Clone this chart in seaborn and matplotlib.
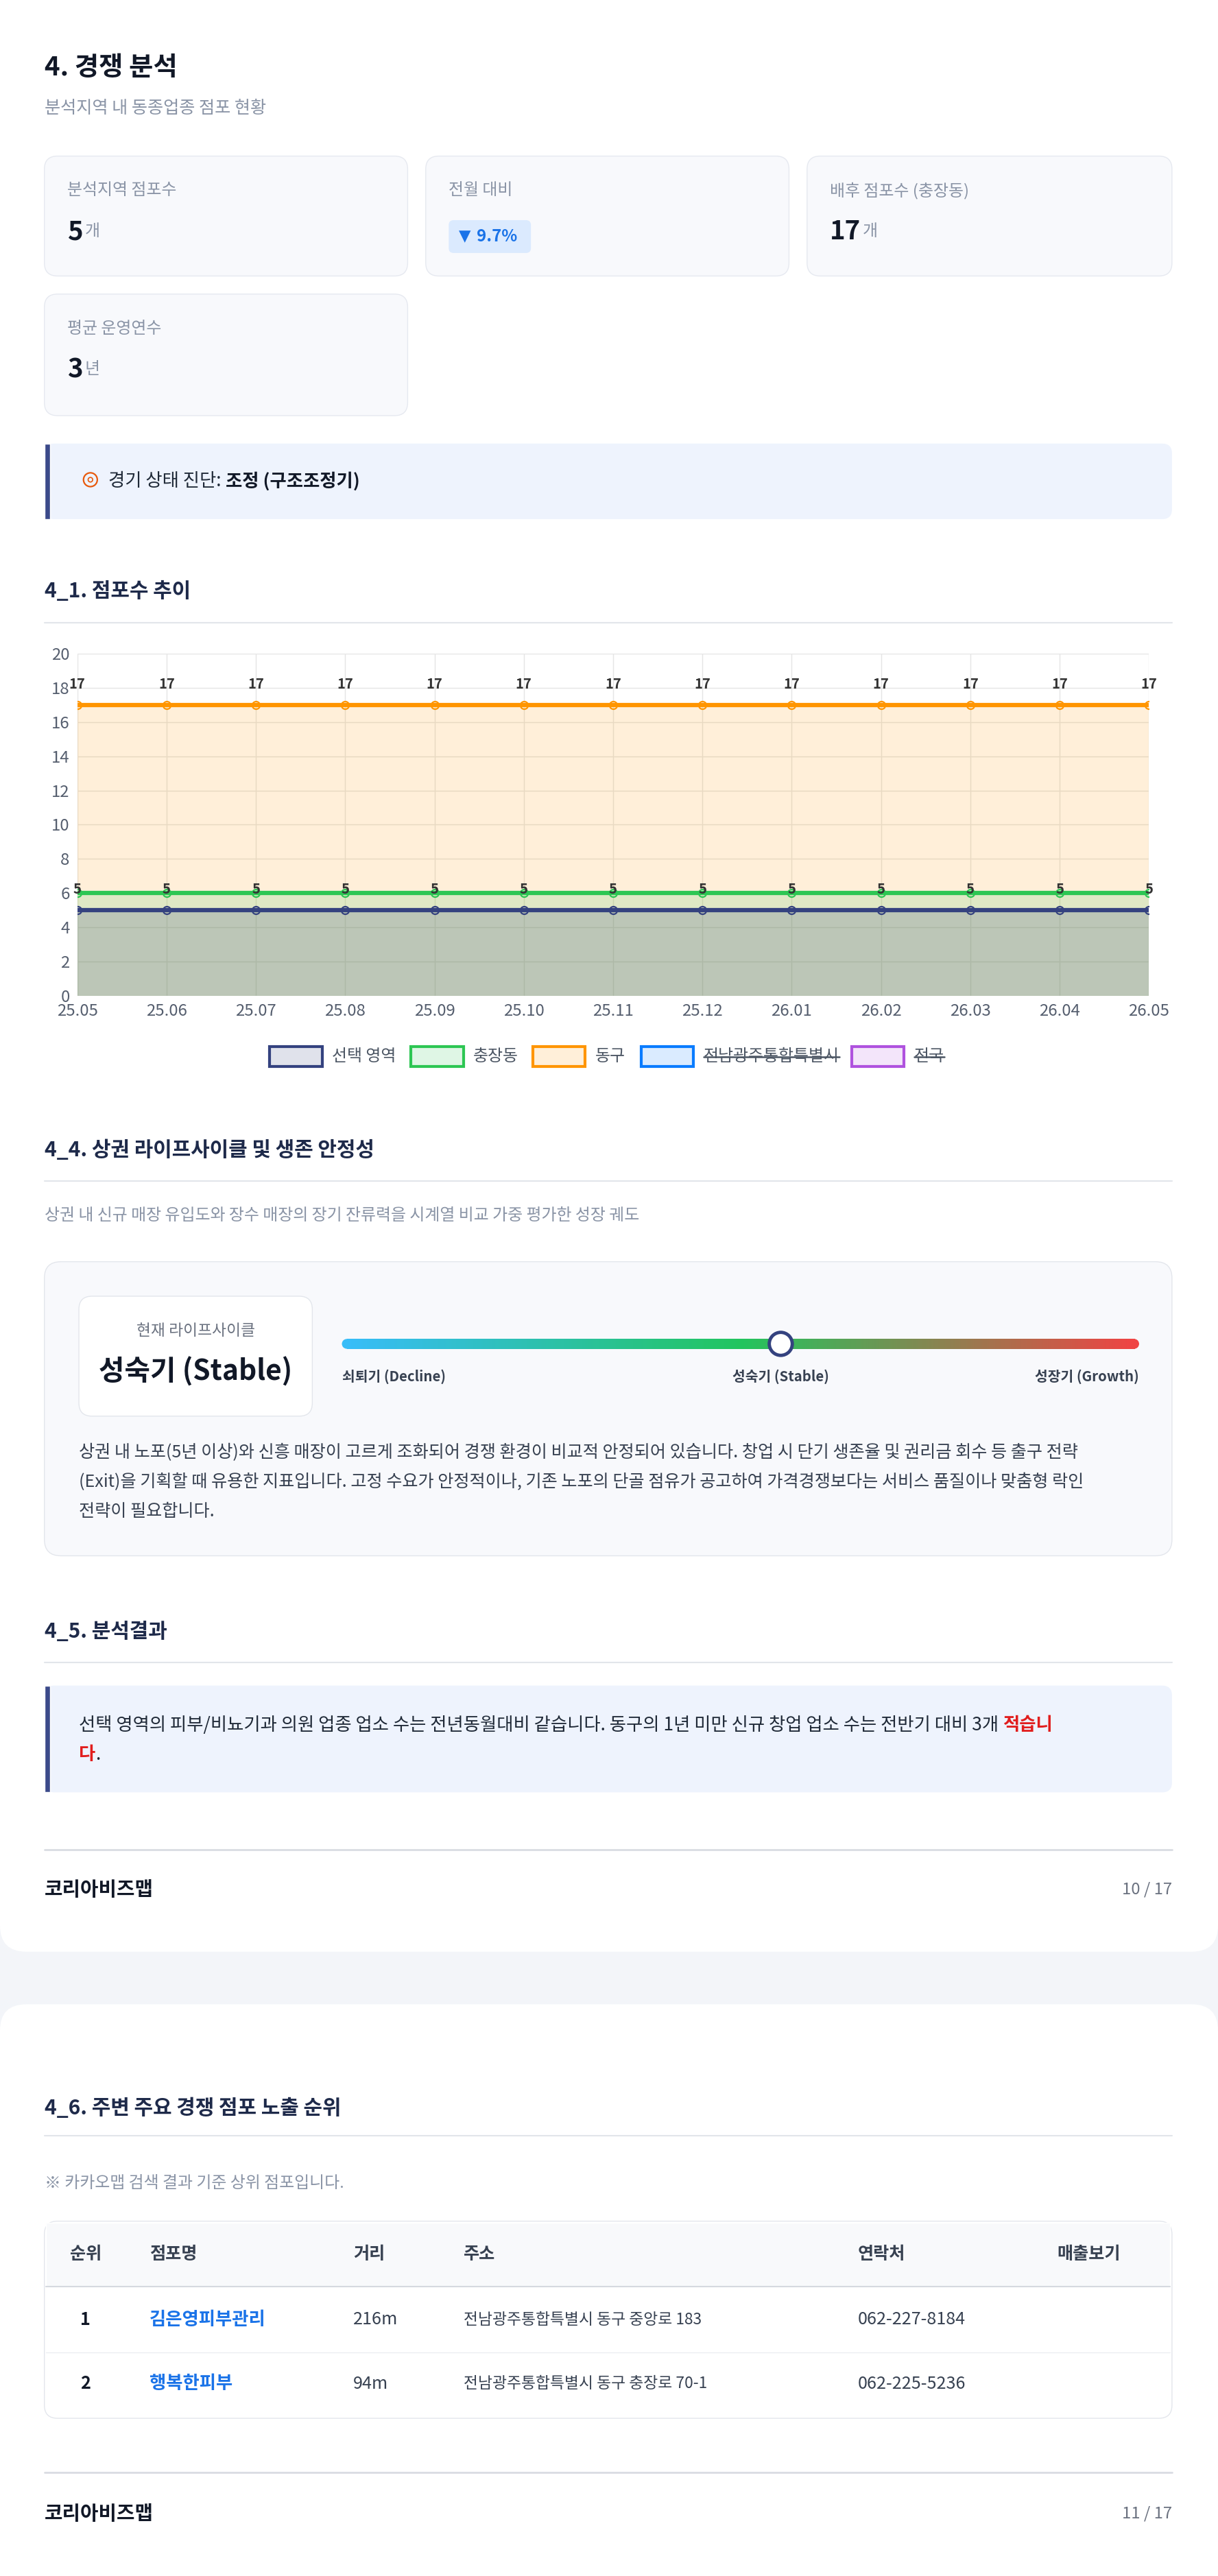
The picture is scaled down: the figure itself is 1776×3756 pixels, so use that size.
import numpy as np
import pandas as pd
import matplotlib
matplotlib.use("Agg")
import matplotlib.pyplot as plt
import seaborn as sns
from matplotlib.patches import FancyBboxPatch, Rectangle, Circle
from matplotlib.colors import LinearSegmentedColormap

# ---------------- data ----------------
months = ["25.05","25.06","25.07","25.08","25.09","25.10","25.11","25.12","26.01","26.02","26.03","26.04","26.05"]
sel_area = [5,5,5,5,5,5,5,5,5,5,5,5,5]
chungjang = [6,6,6,6,6,6,6,6,6,6,6,6,6]
donggu = [17,17,17,17,17,17,17,17,17,17,17,17,17]
series_names = ["선택 영역","충장동","동구","전남광주통합특별시","전국"]
series_colors = ["#34427f","#2dc653","#ff9500","#0a7cff","#af52de"]
hidden = [False, False, False, True, True]

kpi_labels = ["분석지역 점포수","전월 대비","배후 점포수 (충장동)","평균 운영연수"]
kpi_values = ["5","9.7%","17","3"]
kpi_units = ["개","","개","년"]

table_header = ["순위","점포명","거리","주소","연락처","매출보기"]
table_rank = ["1","2"]
table_name = ["김은영피부관리","행복한피부"]
table_dist = ["216m","94m"]
table_addr = ["전남광주통합특별시 동구 중앙로 183","전남광주통합특별시 동구 충장로 70-1"]
table_tel = ["062-227-8184","062-225-5236"]

# ---------------- setup ----------------
sns.set_theme(style="white")
plt.rcParams['font.family'] = ['Noto Sans CJK KR', 'DejaVu Sans']
W, H = 741, 1568
S = 1776 / W
def fs(px): return px * S * 0.72

fig = plt.figure(figsize=(17.76, 37.56), dpi=100)
fig.patch.set_facecolor("#f3f5f9")
ov = fig.add_axes([0, 0, 1, 1])
ov.set_xlim(0, W); ov.set_ylim(H, 0); ov.axis("off")
rend = fig.canvas.get_renderer()

def box(x0, y0, x1, y1, fc, ec="none", r=8, lw=1, z=1):
    ov.add_patch(FancyBboxPatch((x0, y0), x1 - x0, y1 - y0,
                 boxstyle=f"round,pad=0,rounding_size={r}", fc=fc, ec=ec, lw=lw, zorder=z))

def T(x, y, s, size=11, color="#1f2937", weight="normal", ha="left", **kw):
    return ov.text(x, y, s, fontsize=fs(size), color=color, fontweight=weight, ha=ha, va="center", zorder=5, **kw)

def width(t):
    return t.get_window_extent(rend).width / S

def chain(x, y, parts):
    for s, size, color, weight in parts:
        t = T(x, y, s, size, color, weight)
        x += width(t)
    return x

# cards
box(0, -20, 741, 1188, "white", r=16)
box(0, 1220, 741, 1600, "white", r=16)

T(27, 41, "4. 경쟁 분석", 16, "#111827", "bold")
T(27, 66, "분석지역 내 동종업종 점포 현황", 10.5, "#8a94a6")

cards = [(27, 95, 248, 168), (259, 95, 480, 168), (491, 95, 713, 168), (27, 179, 248, 253)]
for i, (x0, y0, x1, y1) in enumerate(cards):
    box(x0, y0, x1, y1, "#f8f9fc", "#e6e9f0", r=8)
    T(x0 + 14, y0 + 21, kpi_labels[i], 10, "#8a94a6")
    if i == 1:
        box(x0 + 14, y0 + 39, x0 + 64, y0 + 59, "#dbeafe", r=3, z=2)
        T(x0 + 20, y0 + 49, "▼", 9.5, "#1a73e8", family=['DejaVu Sans'])
        T(x0 + 31, y0 + 49, kpi_values[i], 10, "#1a73e8", "bold")
    else:
        chain(x0 + 14, y0 + 46, [(kpi_values[i], 16, "#111827", "bold"), (" ", 5, "#fff", "normal"),
                                  (kpi_units[i], 10, "#8a94a6", "normal")])

box(27, 270, 713, 316, "#eef3fd", r=6)
ov.add_patch(Rectangle((27, 270), 3.5, 46, fc="#3b4a8a", zorder=3))
ov.add_patch(Circle((55, 292), 4.2, fc="none", ec="#e8590c", lw=1.6, zorder=4))
ov.add_patch(Circle((55, 292), 1.4, fc="none", ec="#e8590c", lw=1.2, zorder=4))
chain(66, 293, [("경기 상태 진단: ", 11, "#1f2937", "normal"), ("조정 (구조조정기)", 11, "#111827", "bold")])

def section(y, title, line_y):
    T(27, y, title, 12.5, "#1e2a4a", "bold")
    ov.plot([27, 713], [line_y, line_y], color="#e2e5ea", lw=1.5, zorder=3)

section(360, "4_1. 점포수 추이", 379)

# ---------------- chart ----------------
ax = fig.add_axes([47 / W, 1 - 606 / H, (699 - 47) / W, (606 - 398) / H])
idx = np.arange(len(months))
df = pd.DataFrame({"x": np.tile(idx, 3),
                   "v": sel_area + chungjang + donggu,
                   "s": np.repeat(series_names[:3], len(months))})
ax.fill_between(idx, donggu, color=series_colors[2], alpha=0.15, lw=0)
ax.fill_between(idx, chungjang, color=series_colors[1], alpha=0.15, lw=0)
ax.fill_between(idx, sel_area, color=series_colors[0], alpha=0.2, lw=0)
sns.lineplot(data=df, x="x", y="v", hue="s", palette=series_colors[:3], hue_order=series_names[:3],
             marker="o", markersize=8, markerfacecolor="white", markeredgewidth=1.6,
             linewidth=4.5, legend=False, ax=ax)
for lines in ax.lines:
    lines.set_markeredgecolor(lines.get_color())
    lines.set_markerfacecolor("none")
for i in idx:
    ax.text(i, donggu[i] + 0.8, str(donggu[i]), ha="center", va="bottom", fontsize=fs(8.5), fontweight="bold", color="#333")
    ax.text(i, sel_area[i] + 0.8, str(sel_area[i]), ha="center", va="bottom", fontsize=fs(8.5), fontweight="bold", color="#333")
ax.set_xlim(0, len(months) - 1)
ax.set_ylim(0, 20)
ax.set_yticks(range(0, 21, 2))
ax.set_xticks(idx)
ax.set_xticklabels(months)
ax.tick_params(labelsize=fs(10), colors="#555e6e", length=0, pad=8)
ax.grid(True, color="#e5e5e5", lw=1)
ax.set_xlabel(""); ax.set_ylabel("")
for sp in ax.spines.values(): sp.set_visible(False)
ax.set_facecolor("none")

# legend
lx = [164, 250, 324, 390, 518]
for i, n in enumerate(series_names):
    ov.add_patch(Rectangle((lx[i], 637), 32, 12, fc=series_colors[i] + "26", ec=series_colors[i], lw=3, zorder=4))
    t = T(lx[i] + 38, 643, n, 10, "#4b5563")
    if hidden[i]:
        w = width(t)
        ov.plot([lx[i] + 38, lx[i] + 38 + w], [643.5, 643.5], color="#4b5563", lw=1.8, zorder=6)

# ---------------- lifecycle ----------------
section(700, "4_4. 상권 라이프사이클 및 생존 안정성", 719)
T(27, 740, "상권 내 신규 매장 유입도와 장수 매장의 장기 잔류력을 시계열 비교 가중 평가한 성장 궤도", 10, "#8a94a6")
box(27, 768, 713, 947, "#f8f9fc", "#e3e6ec", r=10)
box(48, 789, 190, 862, "white", "#e3e6ec", r=8, z=2)
T(119, 810, "현재 라이프사이클", 9.5, "#6b7280", ha="center")
T(119, 835, "성숙기 (Stable)", 17, "#111827", "bold", ha="center")
cmap = LinearSegmentedColormap.from_list("lc", ["#38bdf8", "#22c55e", "#ef4444"])
grad = np.linspace(0, 1, 400).reshape(1, -1)
ov.imshow(grad, cmap=cmap, extent=(211, 690, 821, 815), aspect="auto", zorder=3)
ov.add_patch(Circle((211, 818), 3, fc="#38bdf8", ec="none", zorder=3))
ov.add_patch(Circle((690, 818), 3, fc="#ef4444", ec="none", zorder=3))
ov.add_patch(Circle((475, 818), 7, fc="white", ec="#34427f", lw=3.5, zorder=4))
T(208, 838, "쇠퇴기 (Decline)", 8.5, "#374151", "bold")
T(475, 838, "성숙기 (Stable)", 8.5, "#374151", "bold", ha="center")
T(693, 838, "성장기 (Growth)", 8.5, "#374151", "bold", ha="right")
para = ["상권 내 노포(5년 이상)와 신흥 매장이 고르게 조화되어 경쟁 환경이 비교적 안정되어 있습니다. 창업 시 단기 생존율 및 권리금 회수 등 출구 전략",
        "(Exit)을 기획할 때 유용한 지표입니다. 고정 수요가 안정적이나, 기존 노포의 단골 점유가 공고하여 가격경쟁보다는 서비스 품질이나 맞춤형 락인",
        "전략이 필요합니다."]
for k, line in enumerate(para):
    T(48, 884 + 18 * k, line, 10.5, "#374151")

# ---------------- result ----------------
section(993, "4_5. 분석결과", 1012)
box(27, 1026, 713, 1091, "#eef3fd", r=6)
ov.add_patch(Rectangle((27, 1026), 3.5, 65, fc="#3b4a8a", zorder=3))
chain(48, 1050, [("선택 영역의 피부/비뇨기과 의원 업종 업소 수는 전년동월대비 같습니다. 동구의 1년 미만 신규 창업 업소 수는 전반기 대비 3개 ", 11, "#1f2937", "normal"),
                 ("적습니", 11, "#e11d1d", "bold")])
chain(48, 1068, [("다", 11, "#e11d1d", "bold"), (".", 11, "#1f2937", "normal")])

def footer(y_line, y_text, page):
    ov.plot([27, 713], [y_line, y_line], color="#d9dce2", lw=2, zorder=3)
    T(27, y_text, "코리아비즈맵", 12, "#111827", "bold")
    T(713, y_text, page, 10, "#6b7280", ha="right")

footer(1126, 1150, "10 / 17")

# ---------------- table ----------------
section(1283, "4_6. 주변 주요 경쟁 점포 노출 순위", 1300)
T(27, 1329, "※ 카카오맵 검색 결과 기준 상위 점포입니다.", 10, "#8a94a6")
box(27, 1352, 713, 1472, "white", "#e3e6ec", r=8)
ov.add_patch(Rectangle((28, 1353), 684, 39, fc="#f8f9fb", zorder=2))
ov.plot([28, 712], [1392, 1392], color="#d5d9e0", lw=1.5, zorder=3)
ov.plot([28, 712], [1432, 1432], color="#eceef2", lw=1, zorder=3)
hx = [52, 91, 215, 282, 522, 643]
for j, h in enumerate(table_header):
    T(hx[j], 1372, h, 10.5, "#374151", "bold", ha="center" if j == 0 else "left")
for r in range(2):
    y = 1412 + 39 * r
    T(52, y, table_rank[r], 10.5, "#111827", "bold", ha="center")
    T(91, y, table_name[r], 11, "#1a73e8", "bold")
    T(215, y, table_dist[r], 10.5, "#374151")
    T(282, y, table_addr[r], 9.5, "#374151")
    T(522, y, table_tel[r], 10.5, "#374151")

footer(1505, 1530, "11 / 17")

fig.savefig("out.png", dpi=100, facecolor=fig.get_facecolor())
